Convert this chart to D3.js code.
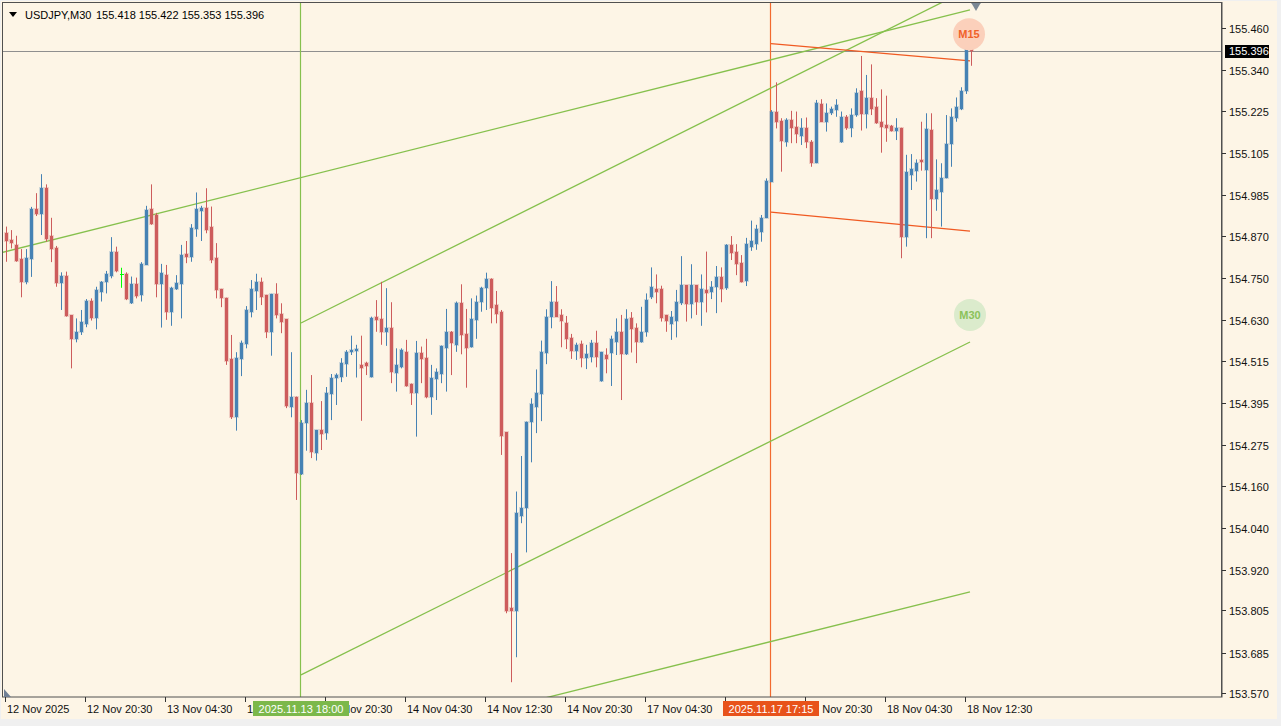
<!DOCTYPE html>
<html>
<head>
<meta charset="utf-8">
<script src="https://cdn.jsdelivr.net/npm/d3@7"></script>
<style>
  body { margin: 0; background: #f0f0f0; }
  svg { display: block; font-family: "Liberation Sans", Arial, sans-serif; font-size: 11px; }
</style>
</head>
<body>
<svg id="chart" width="1281" height="726"></svg>
<script>
// ---- data (USDJPY M30) ----
const symbol = "USDJPY,M30";
const lastBar = [155.418, 155.422, 155.353, 155.396];

const open = [154.877,154.857,154.844,154.804,154.738,154.803,154.947,154.931,155.007,154.869,154.836,154.736,154.755,154.644,154.576,154.596,154.620,154.685,154.635,154.710,154.739,154.756,154.825,154.761,154.762,154.678,154.733,154.702,154.787,154.947,154.929,154.733,154.758,154.654,154.718,154.732,154.818,154.810,154.889,154.941,154.949,154.896,154.807,154.719,154.694,154.520,154.356,154.520,154.562,154.652,154.714,154.739,154.702,154.597,154.705,154.647,154.633,154.384,154.413,154.193,154.337,154.394,154.253,154.318,154.308,154.419,154.465,154.469,154.505,154.539,154.543,154.503,154.509,154.469,154.640,154.633,154.595,154.609,154.481,154.498,154.540,154.450,154.424,154.536,154.523,154.413,154.463,154.476,154.552,154.597,154.560,154.680,154.590,154.555,154.631,154.683,154.721,154.747,154.673,154.652,154.311,153.811,153.804,154.074,154.095,154.340,154.384,154.419,154.538,154.640,154.683,154.645,154.623,154.580,154.543,154.562,154.523,154.526,154.566,154.458,154.531,154.536,154.569,154.595,154.533,154.637,154.609,154.569,154.597,154.697,154.718,154.718,154.645,154.619,154.629,154.678,154.730,154.675,154.730,154.683,154.716,154.709,154.725,154.754,154.721,154.844,154.825,154.793,154.742,154.839,154.846,154.880,154.920,155.024,155.223,155.196,155.137,155.199,155.180,155.154,155.177,155.137,155.076,155.244,155.194,155.220,155.227,155.137,155.207,155.175,155.213,155.282,155.216,155.262,155.235,155.194,155.185,155.182,155.169,155.177,154.867,155.043,155.055,155.085,155.057,155.171,154.974,154.995,155.033,155.131,155.204,155.229,155.282,155.418];
const high = [154.896,154.886,154.870,154.832,154.832,154.952,154.991,155.045,155.016,154.921,154.841,154.766,154.768,154.644,154.635,154.659,154.690,154.692,154.725,154.741,154.770,154.866,154.839,154.779,154.766,154.754,154.751,154.795,154.955,155.016,154.935,154.790,154.787,154.725,154.758,154.844,154.855,154.903,154.993,154.955,155.005,154.953,154.849,154.719,154.694,154.588,154.539,154.572,154.670,154.744,154.762,154.751,154.702,154.705,154.735,154.678,154.633,154.539,154.413,154.346,154.432,154.474,154.318,154.400,154.440,154.477,154.479,154.522,154.545,154.586,154.560,154.586,154.512,154.640,154.687,154.739,154.721,154.681,154.550,154.550,154.574,154.450,154.571,154.555,154.577,154.503,154.493,154.558,154.662,154.599,154.683,154.732,154.662,154.692,154.700,154.725,154.765,154.749,154.713,154.659,154.311,153.968,154.143,154.244,154.342,154.408,154.490,154.572,154.661,154.741,154.727,154.661,154.642,154.591,154.566,154.572,154.560,154.574,154.600,154.540,154.550,154.586,154.635,154.645,154.661,154.653,154.621,154.668,154.706,154.780,154.760,154.728,154.645,154.656,154.716,154.812,154.730,154.789,154.730,154.760,154.825,154.741,154.784,154.780,154.846,154.869,154.846,154.815,154.864,154.913,154.901,154.929,155.033,155.227,155.306,155.204,155.204,155.225,155.223,155.204,155.206,155.142,155.256,155.258,155.246,155.237,155.258,155.223,155.213,155.232,155.289,155.381,155.327,155.357,155.261,155.286,155.268,155.185,155.204,155.177,155.100,155.102,155.087,155.194,155.218,155.218,155.087,155.076,155.213,155.232,155.263,155.292,155.424,155.422];
const low = [154.796,154.834,154.796,154.695,154.732,154.753,154.926,154.872,154.853,154.795,154.725,154.659,154.640,154.493,154.567,154.588,154.610,154.629,154.604,154.683,154.706,154.749,154.766,154.722,154.687,154.676,154.692,154.683,154.787,154.901,154.695,154.609,154.631,154.614,154.716,154.635,154.792,154.796,154.867,154.855,154.877,154.792,154.692,154.667,154.503,154.349,154.316,154.471,154.550,154.638,154.659,154.673,154.579,154.529,154.635,154.593,154.380,154.354,154.119,154.190,154.259,154.238,154.231,154.261,154.290,154.346,154.389,154.454,154.469,154.531,154.467,154.344,154.474,154.467,154.597,154.560,154.557,154.451,154.427,154.493,154.441,154.389,154.299,154.451,154.408,154.361,154.403,154.451,154.427,154.474,154.540,154.533,154.438,154.552,154.577,154.654,154.659,154.621,154.621,154.247,153.797,153.601,153.672,154.053,153.970,154.226,154.309,154.343,154.505,154.607,154.640,154.553,154.548,154.520,154.517,154.496,154.491,154.510,154.496,154.455,154.479,154.443,154.531,154.403,154.531,154.538,154.508,154.566,154.583,154.690,154.678,154.626,154.597,154.574,154.581,154.673,154.626,154.635,154.645,154.614,154.652,154.690,154.650,154.681,154.716,154.801,154.758,154.737,154.727,154.827,154.830,154.853,154.920,155.024,155.175,155.052,155.123,155.133,155.133,155.128,155.119,155.066,155.076,155.194,155.166,155.213,155.208,155.134,155.171,155.150,155.208,155.169,155.175,155.213,155.188,155.106,155.137,155.166,155.142,154.806,154.839,155.000,155.024,155.055,154.863,154.863,154.941,154.896,155.033,155.066,155.194,155.227,155.273,155.353];
const close = [154.855,154.849,154.799,154.739,154.806,154.947,154.931,155.007,154.861,154.832,154.736,154.755,154.643,154.576,154.597,154.626,154.685,154.635,154.715,154.738,154.762,154.825,154.770,154.761,154.689,154.733,154.699,154.791,154.943,154.903,154.733,154.765,154.653,154.722,154.737,154.814,154.810,154.893,154.946,154.949,154.886,154.801,154.716,154.694,154.515,154.354,154.523,154.566,154.659,154.719,154.739,154.697,154.597,154.705,154.645,154.626,154.387,154.413,154.195,154.337,154.394,154.256,154.318,154.307,154.423,154.465,154.474,154.509,154.540,154.545,154.548,154.495,154.501,154.637,154.630,154.595,154.609,154.484,154.503,154.545,154.444,154.424,154.538,154.520,154.413,154.467,154.484,154.557,154.597,154.566,154.680,154.588,154.552,154.633,154.683,154.722,154.747,154.666,154.648,154.302,153.804,153.804,154.081,154.097,154.342,154.392,154.424,154.540,154.640,154.683,154.640,154.629,154.576,154.543,154.560,154.523,154.534,154.566,154.526,154.540,154.519,154.577,154.595,154.533,154.633,154.604,154.569,154.595,154.687,154.725,154.711,154.637,154.629,154.640,154.683,154.730,154.675,154.730,154.683,154.718,154.708,154.725,154.754,154.719,154.844,154.822,154.789,154.739,154.846,154.855,154.889,154.920,155.026,155.223,155.194,155.139,155.199,155.175,155.158,155.177,155.137,155.076,155.248,155.194,155.220,155.230,155.242,155.207,155.175,155.213,155.277,155.216,155.262,155.229,155.190,155.178,155.177,155.169,155.177,154.867,155.052,155.060,155.078,155.079,155.173,154.974,155.000,155.035,155.131,155.208,155.235,155.282,155.421,155.396];

const priceTicks = [155.460,155.340,155.225,155.105,154.985,154.870,154.750,154.630,154.515,154.395,154.275,154.160,154.040,153.920,153.805,153.685,153.570];
const timeTickBars = [0,16,32,48,64,80,96,112,128,144,160,176,192];
const timeTickLabels = ["12 Nov 2025","12 Nov 20:30","13 Nov 04:30","13 Nov 12:30","13 Nov 20:30","14 Nov 04:30","14 Nov 12:30","14 Nov 20:30","17 Nov 04:30","17 Nov 12:30","17 Nov 20:30","18 Nov 04:30","18 Nov 12:30"];

// objects drawn on the chart: [bar, price] anchors
const greenTrend = [
  [[-1.2, 154.821], [192.8, 155.512]],
  [[59, 154.622], [192.8, 155.573]],
  [[59, 153.622], [192.8, 154.568]],
  [[59, 153.383], [192.8, 153.858]]
];
const orangeTrend = [
  [[153, 155.416], [192.8, 155.367]],
  [[153, 154.937], [192.8, 154.883]]
];
const vLines = [
  { bar: 59, label: "2025.11.13 18:00", color: "#86c04d", box: "#7cb84a" },
  { bar: 153, label: "2025.11.17 17:15", color: "#f26a2e", box: "#e8531a" }
];
const badges = [
  { bar: 192.6, price: 155.443, text: "M15", fill: "#fbd0bb", color: "#f0622a" },
  { bar: 192.8, price: 154.645, text: "M30", fill: "#dbebcc", color: "#8cc25a" }
];

// ---- layout ----
const W = 1281, H = 726;
const plot = { left: 3, top: 3, right: 1222, bottom: 697 };

const x = d3.scaleLinear().domain([0, 193]).range([6, 971]);
const y = d3.scaleLinear().domain([153.559, 155.540]).range([697, 0]);

const svg = d3.select("#chart");

svg.append("rect").attr("x", 0).attr("y", 0).attr("width", W).attr("height", H).attr("fill", "#f0f0f0");
svg.append("rect").attr("x", 1).attr("y", 1).attr("width", 1276).attr("height", 718).attr("fill", "#fdf5e6");

const defs = svg.append("defs");
defs.append("clipPath").attr("id", "plotClip")
  .append("rect")
  .attr("x", plot.left).attr("y", plot.top)
  .attr("width", plot.right - plot.left).attr("height", plot.bottom - plot.top);

const g = svg.append("g").attr("clip-path", "url(#plotClip)");

// current price line
g.append("line")
  .attr("x1", plot.left).attr("x2", plot.right)
  .attr("y1", Math.round(y(lastBar[3])) + 0.5).attr("y2", Math.round(y(lastBar[3])) + 0.5)
  .attr("stroke", "#8f8f8f").attr("stroke-width", 1);

// vertical lines
vLines.forEach(v => {
  const xx = Math.round(x(v.bar)) - 0.5;
  g.append("line").attr("x1", xx).attr("x2", xx).attr("y1", plot.top).attr("y2", plot.bottom)
    .attr("stroke", v.color).attr("stroke-width", 1.2);
});

const line = d3.line().x(d => x(d[0])).y(d => y(d[1]));
greenTrend.forEach(t => g.append("path").attr("d", line(t)).attr("fill", "none")
  .attr("stroke", "#86c04d").attr("stroke-width", 1.3));
orangeTrend.forEach(t => g.append("path").attr("d", line(t)).attr("fill", "none")
  .attr("stroke", "#f05a22").attr("stroke-width", 1.3));

// candles
const bars = d3.range(open.length).map(i => ({ i, o: open[i], h: high[i], l: low[i], c: close[i] }));
const colorOf = d => d.c > d.o ? "#4682b4" : (d.c < d.o ? "#cd5c5c" : "#00ff00");

const cg = g.selectAll("g.candle").data(bars).enter().append("g").attr("class", "candle");
cg.append("rect") // soft halo
  .attr("x", d => Math.round(x(d.i)) - 2)
  .attr("width", 5)
  .attr("y", d => Math.round(y(Math.max(d.o, d.c))) - 1)
  .attr("height", d => Math.max(1, Math.round(y(Math.min(d.o, d.c))) - Math.round(y(Math.max(d.o, d.c)))) + 2)
  .attr("fill", colorOf).attr("opacity", d => d.o === d.c ? 0 : 0.25);
cg.append("line")
  .attr("x1", d => Math.round(x(d.i)) + 0.5).attr("x2", d => Math.round(x(d.i)) + 0.5)
  .attr("y1", d => y(d.h)).attr("y2", d => y(d.l))
  .attr("stroke", colorOf).attr("stroke-width", 1);
cg.append("rect")
  .attr("x", d => Math.round(x(d.i)) - 1)
  .attr("width", d => d.o === d.c ? 0 : 3)
  .attr("y", d => Math.round(y(Math.max(d.o, d.c))))
  .attr("height", d => Math.max(1, Math.round(y(Math.min(d.o, d.c))) - Math.round(y(Math.max(d.o, d.c)))))
  .attr("fill", colorOf);
// doji tick
cg.filter(d => d.o === d.c).append("line")
  .attr("x1", d => Math.round(x(d.i)) - 1).attr("x2", d => Math.round(x(d.i)) + 3)
  .attr("y1", d => Math.round(y(d.o)) + 0.5).attr("y2", d => Math.round(y(d.o)) + 0.5)
  .attr("stroke", "#00ff00");

// badges
badges.forEach(b => {
  g.append("circle").attr("cx", x(b.bar)).attr("cy", y(b.price)).attr("r", 16).attr("fill", b.fill);
  g.append("text").attr("x", x(b.bar)).attr("y", y(b.price) + 4)
    .attr("text-anchor", "middle").attr("font-weight", "bold").attr("font-size", 11)
    .attr("fill", b.color).text(b.text);
});

// arrow marker at top right
g.append("path")
  .attr("d", d3.symbol(d3.symbolDiamond, 70)())
  .attr("transform", `translate(${x(194)},${y(155.531)})`)
  .attr("fill", "#7a8794");

// frame
svg.append("rect")
  .attr("x", plot.left - 0.5).attr("y", plot.top - 0.5)
  .attr("width", plot.right - plot.left + 0.5).attr("height", plot.bottom - plot.top + 0.5)
  .attr("fill", "none").attr("stroke", "#505050");
svg.append("line").attr("x1", plot.right - 0.5).attr("x2", plot.right - 0.5)
  .attr("y1", plot.top).attr("y2", plot.bottom).attr("stroke", "#505050");

// shift marker bottom-left
svg.append("path").attr("d", "M4,689 L11,697 L4,697 Z").attr("fill", "#6f7f95");

// price axis
const pa = svg.append("g");
priceTicks.forEach(v => {
  const yy = Math.round(y(v)) + 0.5;
  pa.append("line").attr("x1", plot.right).attr("x2", plot.right + 4).attr("y1", yy).attr("y2", yy).attr("stroke", "#333");
  pa.append("text").attr("x", plot.right + 7).attr("y", yy + 4).attr("fill", "#111").text(d3.format(".3f")(v));
});
const lpY = Math.round(y(lastBar[3]));
pa.append("rect").attr("x", plot.right + 3).attr("y", lpY - 6).attr("width", 44).attr("height", 13).attr("fill", "#000");
pa.append("text").attr("x", plot.right + 7).attr("y", lpY + 4).attr("fill", "#fff").text(d3.format(".3f")(lastBar[3]));

// time axis: labels under the vertical-line boxes are cut, as in the terminal
const boxW = 96;
const cut = defs.append("clipPath").attr("id", "timeClip");
const boxEdges = vLines.map(v => [x(v.bar) - boxW / 2, x(v.bar) + boxW / 2]);
let from = 0;
boxEdges.forEach(([a, b]) => {
  cut.append("rect").attr("x", from).attr("y", 697).attr("width", a - from).attr("height", 22);
  from = b;
});
cut.append("rect").attr("x", from).attr("y", 697).attr("width", plot.right - from).attr("height", 22);

const ta = svg.append("g");
const tl = ta.append("g").attr("clip-path", "url(#timeClip)");
timeTickBars.forEach((b, k) => {
  const xx = Math.round(x(b)) - 0.5;
  ta.append("line").attr("x1", xx).attr("x2", xx).attr("y1", plot.bottom).attr("y2", plot.bottom + 5).attr("stroke", "#333");
  tl.append("text").attr("x", xx + 1.5).attr("y", 713).attr("fill", "#111").text(timeTickLabels[k]);
});
vLines.forEach(v => {
  const cx = x(v.bar);
  ta.append("rect").attr("x", cx - boxW / 2).attr("y", 701).attr("width", boxW).attr("height", 15).attr("fill", v.box);
  ta.append("text").attr("x", cx).attr("y", 712.5).attr("text-anchor", "middle").attr("fill", "#fff").text(v.label);
});

// header
svg.append("path").attr("d", "M9,12 L17,12 L13,17 Z").attr("fill", "#000");
svg.append("text").attr("x", 25).attr("y", 19).attr("fill", "#000").text(symbol);
svg.append("text").attr("x", 96).attr("y", 19).attr("fill", "#000")
  .text(lastBar.map(d3.format(".3f")).join(" "));
</script>
</body>
</html>
